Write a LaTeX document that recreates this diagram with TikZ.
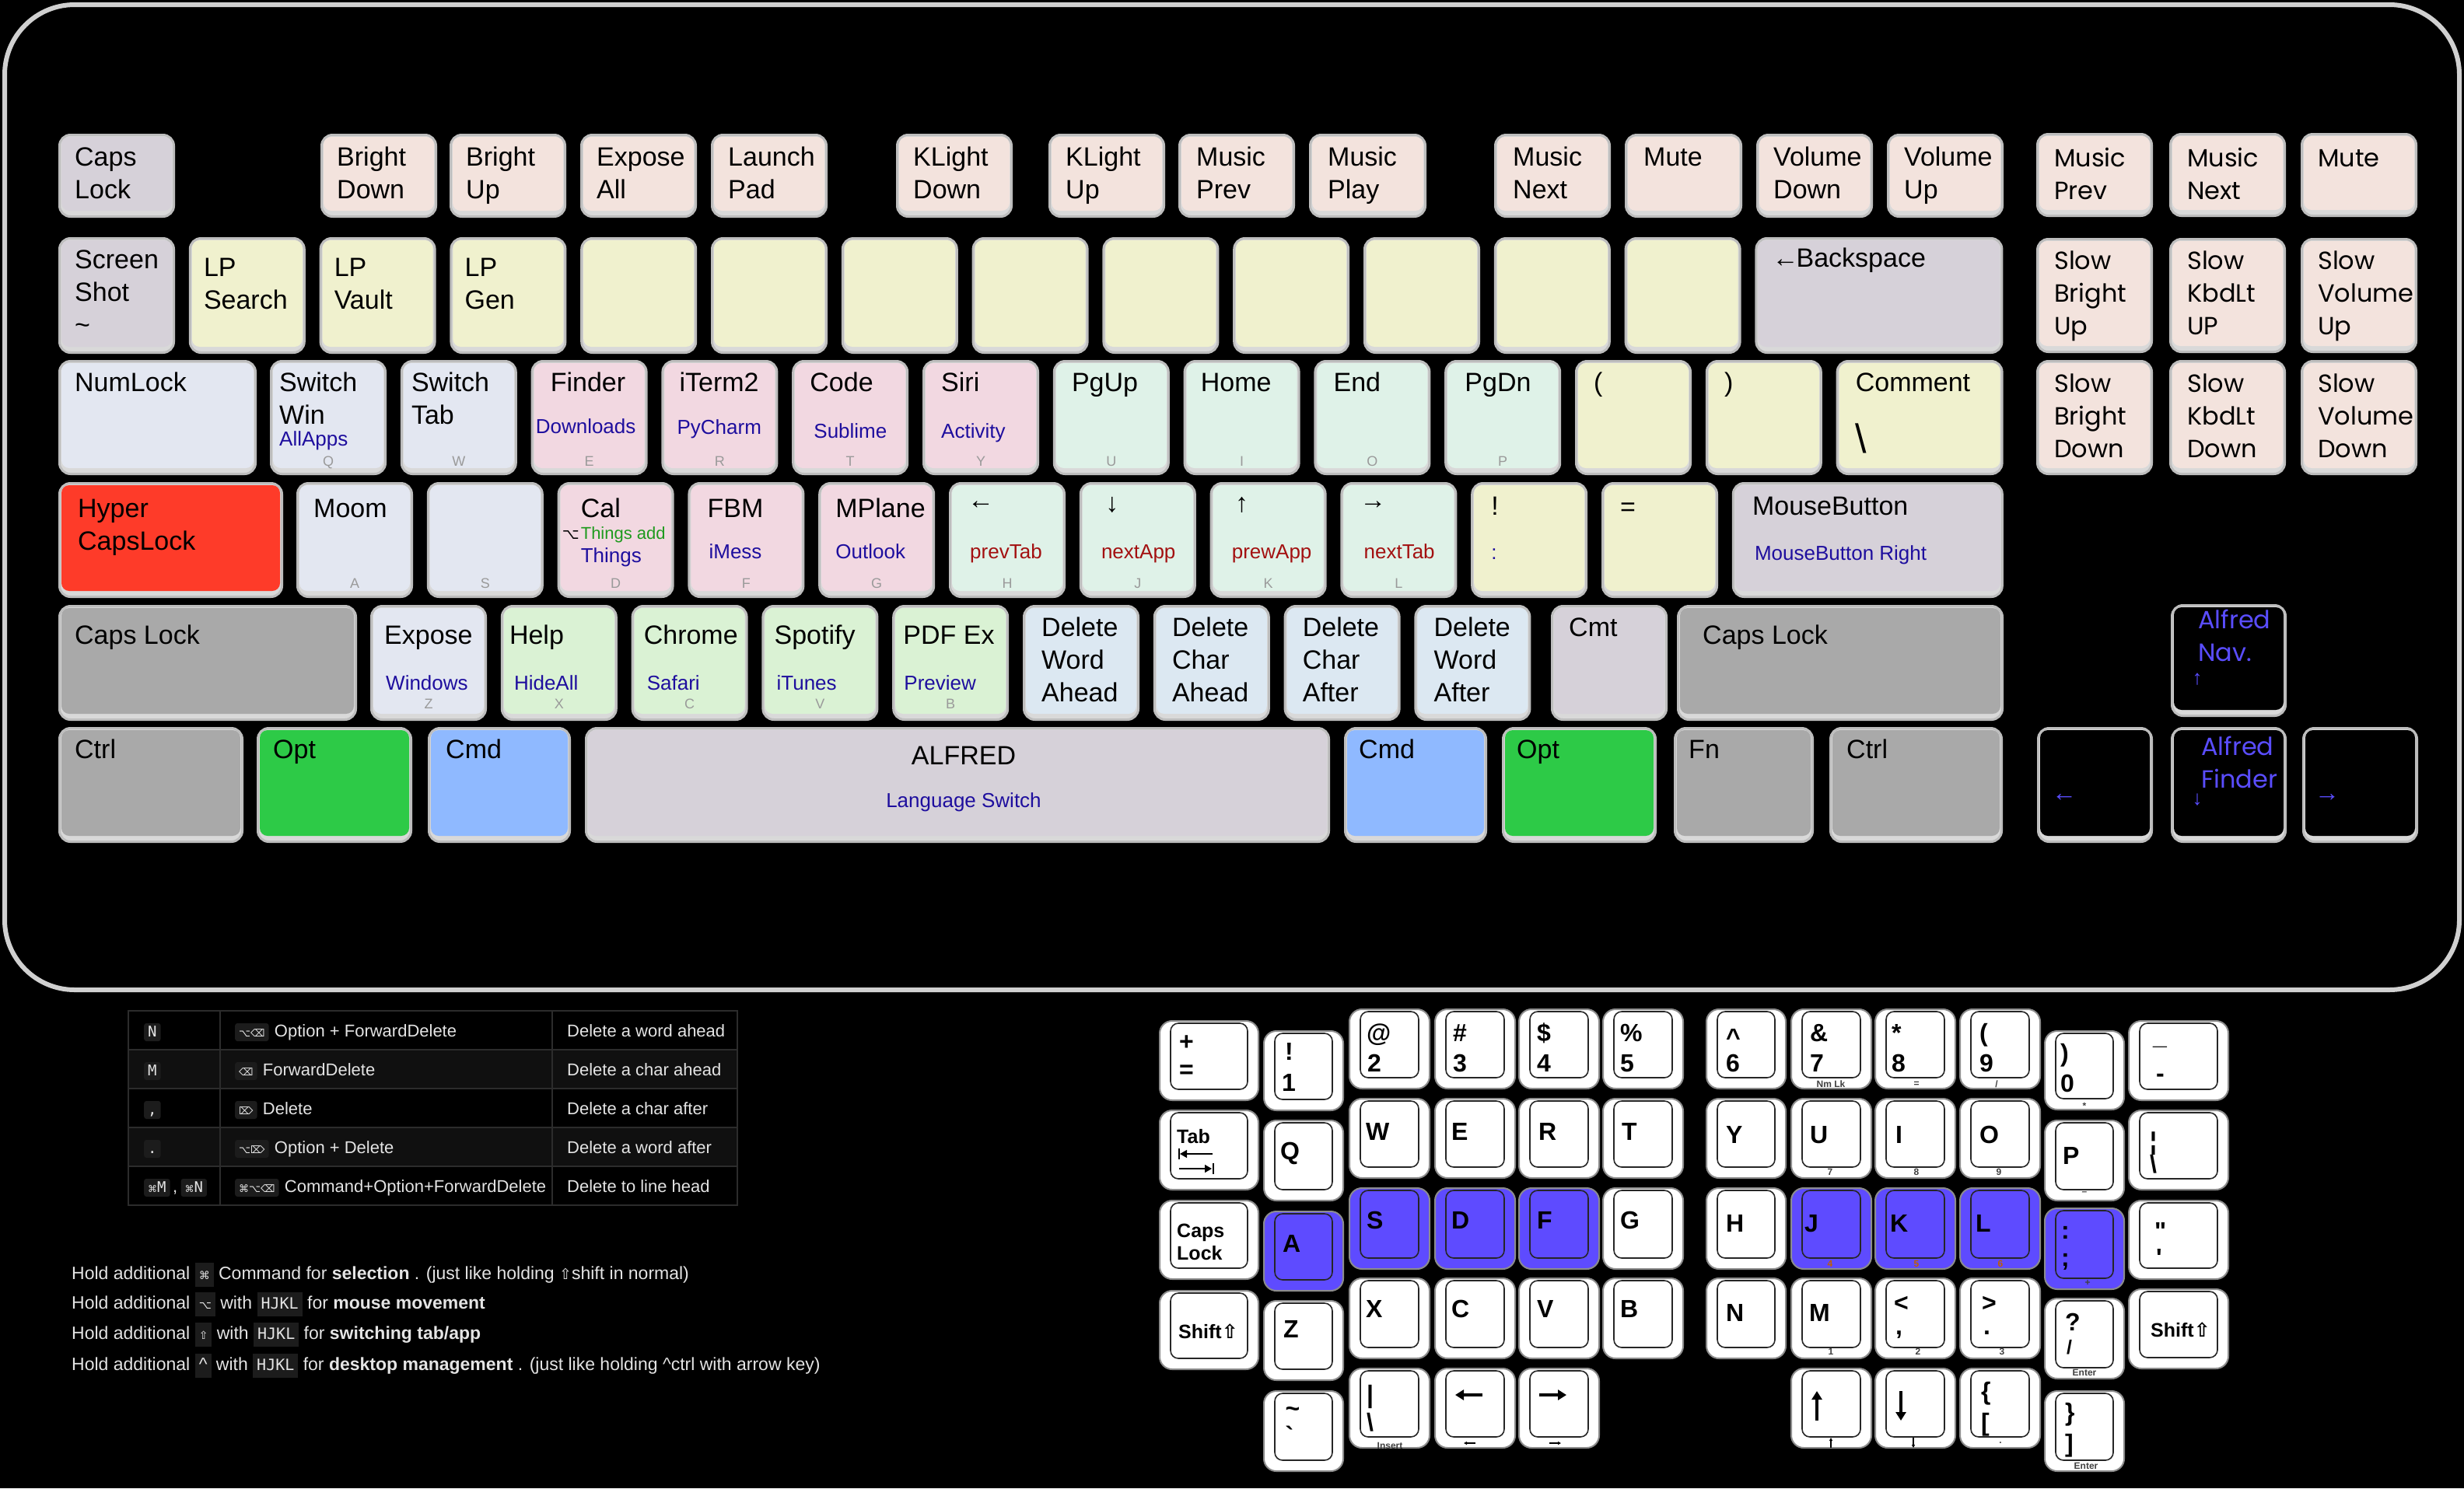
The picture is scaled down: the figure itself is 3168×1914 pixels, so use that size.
\documentclass[tikz,border=0pt]{standalone}
\usepackage{fontspec}
\setmainfont{Liberation Sans}
\newfontfamily\popf{Poppins}
\newfontfamily\djv{DejaVu Sans}
\newfontfamily\monof{DejaVu Sans Mono}
\usetikzlibrary{calc,arrows.meta}

\definecolor{fnc}{HTML}{F3E3DD}
\definecolor{yel}{HTML}{F0F1CE}
\definecolor{lav}{HTML}{D6D1D9}
\definecolor{lbg}{HTML}{E3E7F1}
\definecolor{pnk}{HTML}{F2D8E1}
\definecolor{mnt}{HTML}{DFF2E8}
\definecolor{lgr}{HTML}{DAF2D4}
\definecolor{lbl}{HTML}{DCE8F2}
\definecolor{hypr}{HTML}{FE3B29}
\definecolor{gry}{HTML}{A9A9A9}
\definecolor{optg}{HTML}{2DCA47}
\definecolor{cmdb}{HTML}{8FB9FF}
\definecolor{secb}{HTML}{1E0E9E}
\definecolor{secr}{HTML}{A31010}
\definecolor{secg}{HTML}{1E9A1E}
\definecolor{hintg}{HTML}{9A9A9A}
\definecolor{navb}{HTML}{5A4DFF}
\definecolor{purp}{HTML}{5E4BFF}
\definecolor{rimc}{HTML}{D9D9D9}
\definecolor{haloc}{HTML}{BDBDBD}
\definecolor{framec}{HTML}{D0D0D0}
\definecolor{codebg}{HTML}{1C1C1C}
\definecolor{rowbg}{HTML}{101010}
\definecolor{gridc}{HTML}{2C2C2C}
\definecolor{tabtxt}{HTML}{E4E4E4}
\definecolor{smallo}{HTML}{C06000}
\definecolor{erimc}{HTML}{8C8C8C}

\newcommand\lines[1]{\begin{tabular}[t]{@{}l@{}}#1\end{tabular}}

\tikzset{
  keyrim/.style={draw=haloc, line width=3pt, fill=rimc, rounded corners=14pt, inner sep=0pt},
  kt/.style={font=\fontsize{34}{42}\selectfont, inner sep=0pt, text=black},
  ks/.style={font=\fontsize{26}{30}\selectfont, inner sep=0pt, text=secb},
  kr/.style={ks, text=secr},
  kgr/.style={font=\fontsize{22}{26}\selectfont, inner sep=0pt, text=secg},
  kh/.style={font=\fontsize{18}{20}\selectfont, inner sep=0pt, text=hintg},
  kp/.style={font=\popf\fontsize{32}{42}\selectfont, inner sep=0pt, text=black},
  kpn/.style={kp, text=navb},
  kar/.style={font=\fontsize{34}{42}\selectfont, inner sep=0pt, text=black},
  knav/.style={font=\fontsize{26}{30}\selectfont, inner sep=0pt, text=navb},
  knavh/.style={font=\fontsize{32}{34}\selectfont, inner sep=0pt, text=navb},
  erim/.style={draw=erimc, line width=2pt, rounded corners=16pt, inner sep=0pt},
  einner/.style={draw=black!85, line width=1.6pt, rounded corners=10pt},
  ebold/.style={font=\bfseries\fontsize{32}{36}\selectfont, inner sep=0pt, text=black},
  emd/.style={font=\bfseries\fontsize{25}{29}\selectfont, inner sep=0pt, text=black},
  esm/.style={font=\bfseries\fontsize{12}{14}\selectfont, inner sep=0pt, text=black!75},
  esmo/.style={esm, text=smallo},
  earr/.style={line width=4pt, -{Triangle[length=11pt,width=13pt]}},
  esarr/.style={line width=1.2pt, -{Triangle[length=4pt,width=4pt]}},
  code/.style={fill=codebg, rounded corners=3pt, inner xsep=5pt, inner ysep=0pt, text height=17pt, text depth=6pt, text=tabtxt, font=\monof\fontsize{19}{22}\selectfont},
  icon/.style={code, font=\djv\fontsize{13}{16}\selectfont},
  tt/.style={font=\fontsize{22}{26}\selectfont, text=tabtxt, inner sep=0pt},
  ht/.style={font=\fontsize{23}{27}\selectfont, text=tabtxt, inner sep=0pt},
  grid/.style={draw=gridc, line width=2pt}
}

% key: name, x, y, w, h, face colour
\newcommand\keyb[6]{%
  \node[keyrim, minimum width=#4pt, minimum height=#5pt, anchor=north west] (#1) at (#2,#3) {};
  \fill[#6, rounded corners=10pt] ($(#1.north west)+(4,4)$) rectangle ($(#1.south east)+(-4,-9)$);}
% label: [style] key, suffix, dx, dy(baseline), text
\newcommand\kl[6][kt]{\node[#1, anchor=base west] (#2-#3) at ($(#2.north west)+(#4,#5)$) {\lines{#6}};}
% centred label
\newcommand\kc[6][kar]{\node[#1, anchor=center] (#2-#3) at ($(#2.north west)+(#4,#5)$) {#6};}
% hint letter
\newcommand\khint[3]{\node[kh, anchor=base] (#1-h) at ($(#1.south)+(0,-#2)$) {#3};}
% ergonomic key
\newcommand\ekey[6]{%
  \node[erim, fill=#6, minimum width=#4pt, minimum height=#5pt, anchor=north west] (#1) at (#2,#3) {};
  \draw[einner, fill=#6] ($(#1.north west)+(15,4)$) rectangle ($(#1.south east)+(-15,-15)$);}
\newcommand\elg[5][ebold]{\node[#1, anchor=base west] (#2) at (#3,#4) {#5};}
\newcommand\ecn[5][esm]{\node[#1, anchor=center] (#2) at (#3,#4) {#5};}
\newcommand\cbx[1]{{\fboxsep=5pt\colorbox{codebg}{\vphantom{Hg}#1}}}

\begin{document}
\begin{tikzpicture}[x=1pt,y=-1pt]
\fill[black] (0,0) rectangle (3168,1914);
\useasboundingbox (0,0) rectangle (3168,1914);
\draw[framec, line width=6pt, rounded corners=90pt] (6,6) rectangle (3162,1273);

% ---------------- Row 1
\keyb{k11}{75}{172}{147}{105}{lav}\kl{k11}{t}{21}{41}{Caps\\Lock}
\keyb{k12}{412}{172}{147}{105}{fnc}\kl{k12}{t}{21}{41}{Bright\\Down}
\keyb{k13}{578}{172}{147}{105}{fnc}\kl{k13}{t}{21}{41}{Bright\\Up}
\keyb{k14}{746}{172}{147}{105}{fnc}\kl{k14}{t}{21}{41}{Expose\\All}
\keyb{k15}{914}{172}{147}{105}{fnc}\kl{k15}{t}{22}{41}{Launch\\Pad}
\keyb{k16}{1152}{172}{147}{105}{fnc}\kl{k16}{t}{22}{41}{KLight\\Down}
\keyb{k17}{1348}{172}{147}{105}{fnc}\kl{k17}{t}{22}{41}{KLight\\Up}
\keyb{k18}{1515}{172}{147}{105}{fnc}\kl{k18}{t}{23}{41}{Music\\Prev}
\keyb{k19}{1683}{172}{148}{105}{fnc}\kl{k19}{t}{24}{41}{Music\\Play}
\keyb{k1a}{1921}{172}{147}{105}{fnc}\kl{k1a}{t}{24}{41}{Music\\Next}
\keyb{k1b}{2089}{172}{148}{105}{fnc}\kl{k1b}{t}{24}{41}{Mute}
\keyb{k1c}{2258}{172}{147}{105}{fnc}\kl{k1c}{t}{22}{41}{Volume\\Down}
\keyb{k1d}{2426}{172}{147}{105}{fnc}\kl{k1d}{t}{22}{41}{Volume\\Up}

% ---------------- Row 2
\keyb{k21}{75}{305}{147}{147}{lav}\kl{k21}{t}{21}{40}{Screen\\Shot\\\textasciitilde}
\keyb{k22}{242.8}{305}{147}{147}{yel}\kl{k22}{t}{19}{50}{LP\\Search}
\keyb{k23}{410.6}{305}{147}{147}{yel}\kl{k23}{t}{19}{50}{LP\\Vault}
\keyb{k24}{578.4}{305}{147}{147}{yel}\kl{k24}{t}{19}{50}{LP\\Gen}
\keyb{k25}{746.2}{305}{147}{147}{yel}
\keyb{k26}{914}{305}{147}{147}{yel}
\keyb{k27}{1081.8}{305}{147}{147}{yel}
\keyb{k28}{1249.6}{305}{147}{147}{yel}
\keyb{k29}{1417.4}{305}{147}{147}{yel}
\keyb{k2a}{1585.2}{305}{147}{147}{yel}
\keyb{k2b}{1753}{305}{147}{147}{yel}
\keyb{k2c}{1920.8}{305}{147}{147}{yel}
\keyb{k2d}{2088.6}{305}{147}{147}{yel}
\keyb{k2e}{2256.4}{305}{316}{147}{lav}\kl{k2e}{t}{22}{38}{←\kern-3pt Backspace}

% ---------------- Row 3
\keyb{k31}{75}{463}{252}{145}{lbg}\kl{k31}{t}{21}{40}{NumLock}
\keyb{k32}{347}{463}{147}{145}{lbg}\kl{k32}{t}{12}{40}{Switch\\Win}\kl[ks]{k32}{s}{12}{110}{AllApps}\khint{k32}{12}{Q}
\keyb{k33}{514.8}{463}{147}{145}{lbg}\kl{k33}{t}{14}{40}{Switch\\Tab}\khint{k33}{12}{W}
\keyb{k34}{682.6}{463}{147}{145}{pnk}\kl{k34}{t}{25}{40}{Finder}\kl[ks]{k34}{s}{6}{94}{Downloads}\khint{k34}{12}{E}
\keyb{k35}{850.4}{463}{147}{145}{pnk}\kl{k35}{t}{23}{40}{iTerm2}\kl[ks]{k35}{s}{20}{95}{PyCharm}\khint{k35}{12}{R}
\keyb{k36}{1018.2}{463}{147}{145}{pnk}\kl{k36}{t}{23}{40}{Code}\kl[ks]{k36}{s}{28}{100}{Sublime}\khint{k36}{12}{T}
\keyb{k37}{1186}{463}{147}{145}{pnk}\kl{k37}{t}{24}{40}{Siri}\kl[ks]{k37}{s}{24}{100}{Activity}\khint{k37}{12}{Y}
\keyb{k38}{1353.8}{463}{147}{145}{mnt}\kl{k38}{t}{24}{40}{PgUp}\khint{k38}{12}{U}
\keyb{k39}{1521.6}{463}{147}{145}{mnt}\kl{k39}{t}{22}{40}{Home}\khint{k39}{12}{I}
\keyb{k3a}{1689.4}{463}{147}{145}{mnt}\kl{k3a}{t}{25}{40}{End}\khint{k3a}{12}{O}
\keyb{k3b}{1857.2}{463}{147}{145}{mnt}\kl{k3b}{t}{26}{40}{PgDn}\khint{k3b}{12}{P}
\keyb{k3c}{2025}{463}{147}{145}{yel}\kl{k3c}{t}{24}{40}{(}
\keyb{k3d}{2192.8}{463}{147}{145}{yel}\kl{k3d}{t}{24}{40}{)}
\keyb{k3e}{2360.6}{463}{212}{145}{yel}\kl{k3e}{t}{25}{40}{Comment}
\node[font=\fontsize{52}{56}\selectfont, inner sep=0pt, anchor=base west] (k3e-s) at ($(k3e.north west)+(25,119)$) {\textbackslash};

% ---------------- Row 4
\keyb{k41}{75}{620}{286}{146}{hypr}\kl{k41}{t}{25}{45}{Hyper\\CapsLock}
\keyb{k42}{381}{620}{147}{146}{lbg}\kl{k42}{t}{22}{45}{Moom}\khint{k42}{13}{A}
\keyb{k43}{548.8}{620}{147}{146}{lbg}\khint{k43}{13}{S}
\keyb{k44}{716.6}{620}{147}{146}{pnk}\kl{k44}{t}{30}{45}{Cal}
\node[font=\djv\fontsize{19}{22}\selectfont, inner sep=0pt, anchor=base west] (k44-o) at ($(k44.north west)+(6,73)$) {⌥};
\kl[kgr]{k44}{g}{30}{73}{Things add}\kl[ks]{k44}{s}{30}{103}{Things}\khint{k44}{13}{D}
\keyb{k45}{884.4}{620}{147}{146}{pnk}\kl{k45}{t}{25}{45}{FBM}\kl[ks]{k45}{s}{27}{98}{iMess}\khint{k45}{13}{F}
\keyb{k46}{1052.2}{620}{147}{146}{pnk}\kl{k46}{t}{22}{45}{MPlane}\kl[ks]{k46}{s}{22}{98}{Outlook}\khint{k46}{13}{G}
\keyb{k47}{1220}{620}{147}{146}{mnt}\kc{k47}{a}{41}{30}{←}\kl[kr]{k47}{s}{27}{98}{prevTab}\khint{k47}{13}{H}
\keyb{k48}{1387.8}{620}{147}{146}{mnt}\kc{k48}{a}{42}{29}{↓}\kl[kr]{k48}{s}{28}{98}{nextApp}\khint{k48}{13}{J}
\keyb{k49}{1555.6}{620}{147}{146}{mnt}\kc{k49}{a}{41}{29}{↑}\kl[kr]{k49}{s}{28}{98}{prewApp}\khint{k49}{13}{K}
\keyb{k4a}{1723.4}{620}{147}{146}{mnt}\kc{k4a}{a}{42}{30}{→}\kl[kr]{k4a}{s}{30}{98}{nextTab}\khint{k4a}{13}{L}
\keyb{k4b}{1891.2}{620}{147}{146}{yel}\kl{k4b}{t}{26}{42}{!}\kl[ks]{k4b}{s}{26}{99}{:}
\keyb{k4c}{2059}{620}{147}{146}{yel}\kl{k4c}{t}{24}{43}{=}
\keyb{k4d}{2226.8}{620}{346}{146}{lav}\kl{k4d}{t}{26}{42}{MouseButton}\kl[ks]{k4d}{s}{29}{100}{MouseButton Right}

% ---------------- Row 5
\keyb{k51}{75}{778}{381}{146}{gry}\kl{k51}{t}{21}{50}{Caps Lock}
\keyb{k52}{476}{778}{147}{146}{lbg}\kl{k52}{t}{18}{50}{Expose}\kl[ks]{k52}{s}{20}{109}{Windows}\khint{k52}{16}{Z}
\keyb{k53}{643.8}{778}{147}{146}{lgr}\kl{k53}{t}{11}{50}{Help}\kl[ks]{k53}{s}{17}{109}{HideAll}\khint{k53}{16}{X}
\keyb{k54}{811.6}{778}{147}{146}{lgr}\kl{k54}{t}{16}{50}{Chrome}\kl[ks]{k54}{s}{20}{109}{Safari}\khint{k54}{16}{C}
\keyb{k55}{979.4}{778}{147}{146}{lgr}\kl{k55}{t}{16}{50}{Spotify}\kl[ks]{k55}{s}{19}{109}{iTunes}\khint{k55}{16}{V}
\keyb{k56}{1147.2}{778}{147}{146}{lgr}\kl{k56}{t}{14}{50}{PDF Ex}\kl[ks]{k56}{s}{15}{109}{Preview}\khint{k56}{16}{B}
\keyb{k57}{1315}{778}{147}{146}{lbl}\kl{k57}{t}{24}{40}{Delete\\Word\\Ahead}
\keyb{k58}{1482.8}{778}{147}{146}{lbl}\kl{k58}{t}{24}{40}{Delete\\Char\\Ahead}
\keyb{k59}{1650.6}{778}{147}{146}{lbl}\kl{k59}{t}{24}{40}{Delete\\Char\\After}
\keyb{k5a}{1818.4}{778}{147}{146}{lbl}\kl{k5a}{t}{25}{40}{Delete\\Word\\After}
\keyb{k5b}{1994}{778}{147}{146}{lav}\kl{k5b}{t}{23}{40}{Cmt}
\keyb{k5c}{2156}{778}{417}{146}{gry}\kl{k5c}{t}{33}{50}{Caps Lock}

% ---------------- Row 6
\keyb{k61}{75}{935}{235}{146}{gry}\kl{k61}{t}{21}{40}{Ctrl}
\keyb{k62}{330}{935}{197}{146}{optg}\kl{k62}{t}{21}{40}{Opt}
\keyb{k63}{550}{935}{181}{146}{cmdb}\kl{k63}{t}{23}{40}{Cmd}
\keyb{k64}{752}{935}{955}{146}{lav}
\node[kt, anchor=base] (k64-t) at ($(k64.north)+(8,48)$) {ALFRED};
\node[ks, anchor=base] (k64-s) at ($(k64.north)+(8,103)$) {Language Switch};
\keyb{k65}{1728}{935}{181}{146}{cmdb}\kl{k65}{t}{19}{40}{Cmd}
\keyb{k66}{1931}{935}{196}{146}{optg}\kl{k66}{t}{19}{40}{Opt}
\keyb{k67}{2152}{935}{177}{146}{gry}\kl{k67}{t}{19}{40}{Fn}
\keyb{k68}{2352}{935}{220}{146}{gry}\kl{k68}{t}{22}{40}{Ctrl}

% ---------------- Right block
\keyb{r11}{2618}{171}{147}{105}{fnc}\kl[kp]{r11}{t}{23}{43}{Music\\Prev}
\keyb{r12}{2789}{171}{147}{105}{fnc}\kl[kp]{r12}{t}{23}{43}{Music\\Next}
\keyb{r13}{2958}{171}{147}{105}{fnc}\kl[kp]{r13}{t}{22}{43}{Mute}
\keyb{r21}{2618}{306}{147}{145}{fnc}\kl[kp]{r21}{t}{23}{40}{Slow\\Bright\\Up}
\keyb{r22}{2789}{306}{147}{145}{fnc}\kl[kp]{r22}{t}{23}{40}{Slow\\KbdLt\\UP}
\keyb{r23}{2958}{306}{147}{145}{fnc}\kl[kp]{r23}{t}{22}{40}{Slow\\Volume\\Up}
\keyb{r31}{2618}{463}{147}{145}{fnc}\kl[kp]{r31}{t}{23}{41}{Slow\\Bright\\Down}
\keyb{r32}{2789}{463}{147}{145}{fnc}\kl[kp]{r32}{t}{23}{41}{Slow\\KbdLt\\Down}
\keyb{r33}{2958}{463}{147}{145}{fnc}\kl[kp]{r33}{t}{22}{41}{Slow\\Volume\\Down}

% ---------------- Nav cluster
\keyb{n1}{2791}{777}{146}{142}{black}\kl[kpn]{n1}{t}{35}{31}{Alfred\\Nav.}\kc[knav]{n1}{a}{34}{97}{↑}
\keyb{n2}{2619}{935}{146}{146}{black}\kc[knavh]{n2}{a}{35}{91}{←}
\keyb{n3}{2791}{935}{146}{146}{black}\kl[kpn]{n3}{t}{39}{36}{Alfred\\Finder}\kc[knav]{n3}{a}{34}{94}{↓}
\keyb{n4}{2960}{935}{146}{146}{black}\kc[knavh]{n4}{a}{32}{91}{→}

% ---------------- Table
\fill[rowbg] (165,1350) rectangle (948,1400);
\fill[rowbg] (165,1450) rectangle (948,1500);
\draw[grid] (165,1300) rectangle (948,1550);
\foreach \yy in {1350,1400,1450,1500} \draw[grid] (165,\yy) -- (948,\yy);
\draw[grid] (283,1300) -- (283,1550) (710,1300) -- (710,1550);

\node[code, anchor=base west] (ta1) at (185,1333) {N};
\node[icon, anchor=base west] (tb1) at (302,1333) {⌥⌫};
\node[tt, anchor=base west] (tc1) at ($(tb1.base east)+(7,0)$) {Option + ForwardDelete};
\node[tt, anchor=base west] (td1) at (729,1333) {Delete a word ahead};

\node[code, anchor=base west] (ta2) at (185,1383) {M};
\node[icon, anchor=base west] (tb2) at (302,1383) {⌫};
\node[tt, anchor=base west] (tc2) at ($(tb2.base east)+(7,0)$) {ForwardDelete};
\node[tt, anchor=base west] (td2) at (729,1383) {Delete a char ahead};

\node[code, anchor=base west] (ta3) at (185,1433) {,};
\node[icon, anchor=base west] (tb3) at (302,1433) {⌦};
\node[tt, anchor=base west] (tc3) at ($(tb3.base east)+(7,0)$) {Delete};
\node[tt, anchor=base west] (td3) at (729,1433) {Delete a char after};

\node[code, anchor=base west] (ta4) at (185,1483) {.};
\node[icon, anchor=base west] (tb4) at (302,1483) {⌥⌦};
\node[tt, anchor=base west] (tc4) at ($(tb4.base east)+(7,0)$) {Option + Delete};
\node[tt, anchor=base west] (td4) at (729,1483) {Delete a word after};

\node[code, anchor=base west] (ta5) at (185,1533) {{\djv\fontsize{12}{14}\selectfont ⌘}M};
\node[tt, anchor=base west] (ta5c) at ($(ta5.base east)+(3,0)$) {,};
\node[code, anchor=base west] (ta5b) at ($(ta5c.base east)+(4,0)$) {{\djv\fontsize{12}{14}\selectfont ⌘}N};
\node[icon, anchor=base west] (tb5) at (302,1533) {⌘⌥⌫};
\node[tt, anchor=base west] (tc5) at ($(tb5.base east)+(7,0)$) {Command+Option+ForwardDelete};
\node[tt, anchor=base west] (td5) at (729,1533) {Delete to line head};

% ---------------- Notes
\node[ht, anchor=base west] (h1) at (92,1645) {Hold additional \cbx{\djv\fontsize{14}{16}\selectfont ⌘} Command for \textbf{selection} . (just like holding {\djv\fontsize{19}{20}\selectfont ⇧}shift in normal)};
\node[ht, anchor=base west] (h2) at (92,1683) {Hold additional \cbx{\djv\fontsize{14}{16}\selectfont ⌥} with \cbx{\monof\fontsize{20}{22}\selectfont HJKL} for \textbf{mouse movement}};
\node[ht, anchor=base west] (h3) at (92,1722) {Hold additional \cbx{\djv\fontsize{14}{16}\selectfont ⇧} with \cbx{\monof\fontsize{20}{22}\selectfont HJKL} for \textbf{switching tab/app}};
\node[ht, anchor=base west] (h4) at (92,1762) {Hold additional \cbx{\textasciicircum} with \cbx{\monof\fontsize{20}{22}\selectfont HJKL} for \textbf{desktop management} . (just like holding \textasciicircum ctrl with arrow key)};

% ---------------- Ergonomic keyboard, left half
\ekey{eplus}{1490}{1312}{127}{102}{white}
\ekey{e1}{1624}{1325}{102}{102}{white}
\ekey{e2}{1734}{1297}{103}{102}{white}
\ekey{e3}{1844}{1297}{103}{102}{white}
\ekey{e4}{1952}{1297}{103}{102}{white}
\ekey{e5}{2060}{1297}{103}{102}{white}
\ekey{etab}{1490}{1427}{127}{102}{white}
\ekey{eq}{1624}{1440}{102}{103}{white}
\ekey{ew}{1734}{1412}{103}{102}{white}
\ekey{ee}{1844}{1412}{103}{102}{white}
\ekey{er}{1952}{1412}{103}{102}{white}
\ekey{et}{2060}{1412}{103}{102}{white}
\ekey{ecaps}{1490}{1543}{127}{101}{white}
\ekey{ea}{1624}{1557}{102}{102}{purp}
\ekey{es}{1734}{1527}{103}{104}{purp}
\ekey{ed}{1844}{1527}{103}{104}{purp}
\ekey{ef}{1952}{1527}{103}{104}{purp}
\ekey{eg}{2060}{1527}{103}{104}{white}
\ekey{eshl}{1490}{1659}{127}{101}{white}
\ekey{ez}{1624}{1672}{102}{102}{white}
\ekey{ex}{1734}{1643}{103}{103}{white}
\ekey{ec}{1844}{1643}{103}{103}{white}
\ekey{ev}{1952}{1643}{103}{103}{white}
\ekey{eb}{2060}{1643}{103}{103}{white}
\ekey{etil}{1624}{1788}{102}{103}{white}
\ekey{ebar}{1734}{1759}{103}{102}{white}
\ekey{eleft}{1844}{1759}{103}{102}{white}
\ekey{eright}{1952}{1759}{103}{102}{white}

\elg{eplus-a}{1516}{1350}{+}\elg{eplus-b}{1516}{1386}{=}
\elg{e1-a}{1652}{1363}{!}\elg{e1-b}{1648}{1403}{1}
\elg{e2-a}{1757}{1339}{@}\elg{e2-b}{1758}{1378}{2}
\elg{e3-a}{1868}{1339}{\#}\elg{e3-b}{1868}{1378}{3}
\elg{e4-a}{1976}{1339}{\$}\elg{e4-b}{1976}{1378}{4}
\elg{e5-a}{2083}{1339}{\%}\elg{e5-b}{2083}{1378}{5}
\elg[emd]{etab-a}{1513}{1470}{Tab}
\draw[line width=2pt] (1516,1477) -- (1516,1491);
\draw[line width=1.5pt, -{Triangle[length=9pt,width=10pt]}] (1559,1484) -- (1517,1484);
\draw[line width=1.5pt, -{Triangle[length=9pt,width=10pt]}] (1516,1503) -- (1558,1503);
\draw[line width=2pt] (1560,1496) -- (1560,1510);
\elg{eq-a}{1646}{1491}{Q}
\elg{ew-a}{1756}{1466}{W}\elg{ee-a}{1866}{1466}{E}\elg{er-a}{1978}{1466}{R}\elg{et-a}{2085}{1466}{T}
\elg[emd]{ecaps-a}{1513}{1591}{Caps}\elg[emd]{ecaps-b}{1513}{1620}{Lock}
\elg{ea-a}{1649}{1610}{A}
\elg{es-a}{1757}{1580}{S}\elg{ed-a}{1866}{1580}{D}\elg{ef-a}{1976}{1580}{F}\elg{eg-a}{2083}{1580}{G}
\elg[emd]{eshl-a}{1515}{1721}{Shift{\djv ⇧}}
\elg{ez-a}{1650}{1720}{Z}
\elg{ex-a}{1756}{1694}{X}\elg{ec-a}{1866}{1694}{C}\elg{ev-a}{1976}{1694}{V}\elg{eb-a}{2083}{1694}{B}
\ecn[ebold]{etil-a}{1662}{1816}{\textasciitilde}\ecn[ebold]{etil-b}{1658}{1846}{\textasciigrave}
\elg{ebar-a}{1757}{1804}{|}\elg{ebar-b}{1757}{1840}{\textbackslash}\ecn{ebar-c}{1787}{1859}{Insert}
\draw[earr] (1906,1794) -- (1871,1794);
\draw[esarr] (1897,1856) -- (1882,1856);
\draw[earr] (1979,1794) -- (2014,1794);
\draw[esarr] (1992,1856) -- (2007,1856);

% ---------------- Ergonomic keyboard, right half
\ekey{e6}{2193}{1297}{102}{102}{white}
\ekey{e7}{2302}{1297}{103}{102}{white}
\ekey{e8}{2410}{1297}{103}{102}{white}
\ekey{e9}{2519}{1297}{103}{102}{white}
\ekey{e0}{2628}{1325}{102}{101}{white}
\ekey{emin}{2736}{1312}{128}{102}{white}
\ekey{ey}{2193}{1412}{102}{102}{white}
\ekey{eu}{2302}{1412}{103}{102}{white}
\ekey{ei}{2410}{1412}{103}{102}{white}
\ekey{eo}{2519}{1412}{103}{102}{white}
\ekey{ep}{2628}{1440}{102}{103}{white}
\ekey{ebsl}{2736}{1427}{128}{102}{white}
\ekey{eh}{2193}{1527}{102}{104}{white}
\ekey{ej}{2302}{1527}{103}{104}{purp}
\ekey{ek}{2410}{1527}{103}{104}{purp}
\ekey{el}{2519}{1527}{103}{104}{purp}
\ekey{esemi}{2628}{1553}{102}{104}{purp}
\ekey{equo}{2736}{1543}{128}{101}{white}
\ekey{en}{2193}{1643}{102}{103}{white}
\ekey{em}{2302}{1643}{103}{103}{white}
\ekey{ecom}{2410}{1643}{103}{103}{white}
\ekey{eper}{2519}{1643}{103}{103}{white}
\ekey{esl}{2628}{1669}{102}{103}{white}
\ekey{eshr}{2736}{1657}{128}{102}{white}
\ekey{eup}{2302}{1759}{103}{102}{white}
\ekey{edn}{2410}{1759}{103}{102}{white}
\ekey{ebr}{2519}{1759}{103}{102}{white}
\ekey{erbr}{2628}{1788}{102}{103}{white}

\elg{e6-a}{2219}{1345}{\textasciicircum}\elg{e6-b}{2219}{1378}{6}
\elg{e7-a}{2327}{1339}{\&}\elg{e7-b}{2327}{1378}{7}\ecn{e7-c}{2354}{1394}{Nm Lk}
\elg{e8-a}{2432}{1339}{*}\elg{e8-b}{2432}{1378}{8}\ecn{e8-c}{2464}{1394}{=}
\elg{e9-a}{2545}{1339}{(}\elg{e9-b}{2545}{1378}{9}\ecn{e9-c}{2567}{1394}{/}
\elg{e0-a}{2649}{1365}{)}\elg{e0-b}{2649}{1404}{0}\ecn{e0-c}{2680}{1422}{*}
\elg{emin-a}{2768}{1343}{\_}\elg{emin-b}{2772}{1391}{-}
\elg{ey-a}{2219}{1470}{Y}
\elg{eu-a}{2327}{1470}{U}\ecn{eu-c}{2353}{1507}{7}
\elg{ei-a}{2437}{1470}{I}\ecn{ei-c}{2464}{1507}{8}
\elg{eo-a}{2545}{1470}{O}\ecn{eo-c}{2570}{1507}{9}
\elg{ep-a}{2652}{1497}{P}\ecn{ep-c}{2680}{1535}{–}
\elg{ebsl-a}{2764}{1478}{¦}\elg{ebsl-b}{2764}{1508}{\textbackslash}
\elg{eh-a}{2219}{1584}{H}
\elg{ej-a}{2320}{1584}{J}\ecn[esmo]{ej-c}{2353}{1625}{4}
\elg{ek-a}{2430}{1584}{K}\ecn[esmo]{ek-c}{2464}{1625}{5}
\elg{el-a}{2540}{1584}{L}\ecn[esmo]{el-c}{2572}{1625}{6}
\elg{esemi-a}{2650}{1593}{:}\elg{esemi-b}{2650}{1628}{;}\ecn{esemi-c}{2684}{1650}{+}
\elg{equo-a}{2770}{1594}{\textquotedbl}\elg{equo-b}{2772}{1628}{\textquotesingle}
\elg{en-a}{2219}{1699}{N}
\elg{em-a}{2326}{1699}{M}\ecn{em-c}{2354}{1738}{1}
\elg{ecom-a}{2435}{1686}{<}\elg{ecom-b}{2437}{1716}{,}\ecn{ecom-c}{2466}{1738}{2}
\elg{eper-a}{2548}{1686}{>}\elg{eper-b}{2550}{1716}{.}\ecn{eper-c}{2574}{1738}{3}
\elg{esl-a}{2655}{1711}{?}\elg[emd]{esl-b}{2657}{1741}{/}\ecn{esl-c}{2680}{1765}{Enter}
\elg[emd]{eshr-a}{2765}{1719}{Shift{\djv ⇧}}
\draw[earr] (2336,1827) -- (2336,1789);
\draw[esarr] (2354,1862) -- (2354,1849);
\draw[earr] (2444,1789) -- (2444,1827);
\draw[esarr] (2460,1849) -- (2460,1862);
\elg{ebr-a}{2547}{1800}{\{}\elg{ebr-b}{2547}{1840}{[}\ecn{ebr-c}{2572}{1856}{.}
\elg{erbr-a}{2655}{1827}{\}}\elg{erbr-b}{2655}{1867}{]}\ecn{erbr-c}{2682}{1885}{Enter}
\end{tikzpicture}
\end{document}
